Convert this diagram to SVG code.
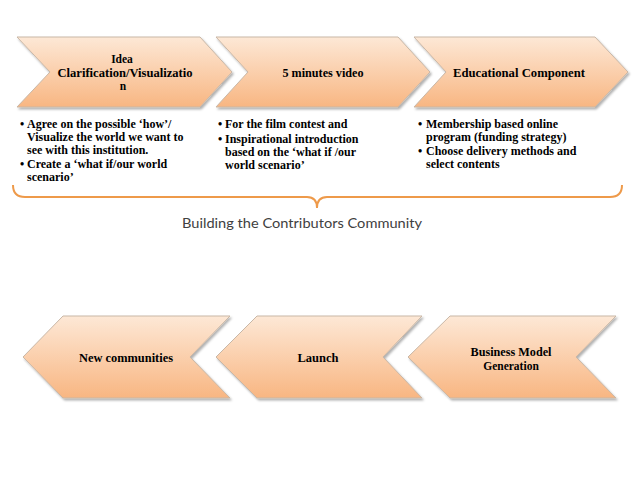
<svg xmlns="http://www.w3.org/2000/svg" width="640" height="480" viewBox="0 0 640 480">
<defs>
<linearGradient id="g" x1="0" y1="0" x2="0" y2="1">
<stop offset="0" stop-color="#fde8d6"/>
<stop offset="1" stop-color="#f8b682"/>
</linearGradient>
<filter id="sh" x="-10%" y="-10%" width="130%" height="130%">
<feDropShadow dx="1.5" dy="2" stdDeviation="1.2" flood-color="#000" flood-opacity="0.3"/>
</filter>
<style>
.chev{fill:url(#g);stroke:#c9b7a6;stroke-width:1;filter:url(#sh)}
.lbl{font-family:"Liberation Serif","Times New Roman",serif;font-weight:bold;font-size:12.5px;fill:#000;text-anchor:middle}
.sm{font-size:11.5px}
.bul{font-family:"Liberation Serif","Times New Roman",serif;font-weight:bold;font-size:12px;fill:#000}
.brace{fill:none;stroke:#ee9a4a;stroke-width:2}
.cap{font-family:Lato,"Open Sans",sans-serif;font-size:14px;fill:#404040;text-anchor:middle}
</style>
</defs>
<rect width="640" height="480" fill="#fff"/>
<g id="node-idea">
<polygon class="chev" points="17,37 200,37 232,72 200,107 17,107 50,72"/>
<text class="lbl sm" x="122" y="63">Idea</text>
<text class="lbl sm" x="125" y="76.5" textLength="135" lengthAdjust="spacingAndGlyphs">Clarification/Visualizatio</text>
<text class="lbl sm" x="123" y="90">n</text>
</g>
<g id="node-video">
<polygon class="chev" points="216,37 398,37 430,72 398,107 216,107 248,72"/>
<text class="lbl" x="323" y="77" textLength="81" lengthAdjust="spacingAndGlyphs">5 minutes video</text>
</g>
<g id="node-edu">
<polygon class="chev" points="414,37 595,37 628,72 595,107 414,107 446,72"/>
<text class="lbl" x="519" y="77" textLength="132" lengthAdjust="spacingAndGlyphs">Educational Component</text>
</g>
<g id="bullets-1">
<text class="bul" x="20" y="128">•</text>
<text class="bul" x="27" y="128">Agree on the possible ‘how’/</text>
<text class="bul" x="27" y="141">Visualize the world we want to</text>
<text class="bul" x="27" y="154">see with this institution.</text>
<text class="bul" x="20" y="168">•</text>
<text class="bul" x="27" y="168">Create a ‘what if/our world</text>
<text class="bul" x="27" y="181">scenario’</text>
</g>
<g id="bullets-2">
<text class="bul" x="218" y="128">•</text>
<text class="bul" x="225" y="128">For the film contest and</text>
<text class="bul" x="218" y="143">•</text>
<text class="bul" x="225" y="143">Inspirational introduction</text>
<text class="bul" x="225" y="156">based on the ‘what if /our</text>
<text class="bul" x="225" y="169">world scenario’</text>
</g>
<g id="bullets-3">
<text class="bul" x="418" y="128">•</text>
<text class="bul" x="426" y="128">Membership based online</text>
<text class="bul" x="426" y="141">program (funding strategy)</text>
<text class="bul" x="418" y="155">•</text>
<text class="bul" x="426" y="155">Choose delivery methods and</text>
<text class="bul" x="426" y="168">select contents</text>
</g>
<g id="connectors">
<path class="brace" d="M13,185 Q13,197 25,197 L307,197 Q317,197 317,208 Q317,197 327,197 L610,197 Q622,197 622,185"/>
</g>
<g id="caption">
<text class="cap" x="302" y="228" textLength="240" lengthAdjust="spacingAndGlyphs">Building the Contributors Community</text>
</g>
<g id="node-newcomm">
<polygon class="chev" points="23,357 63,316 230,316 190,357 230,398 63,398"/>
<text class="lbl" x="126" y="362" textLength="94" lengthAdjust="spacingAndGlyphs">New communities</text>
</g>
<g id="node-launch">
<polygon class="chev" points="216,357 257,316 422,316 383,357 422,398 257,398"/>
<text class="lbl" x="318" y="362">Launch</text>
</g>
<g id="node-bmg">
<polygon class="chev" points="408,357 450,316 616,316 576,357 616,398 450,398"/>
<text class="lbl sm" x="511" y="356" textLength="81" lengthAdjust="spacingAndGlyphs">Business Model</text>
<text class="lbl sm" x="511" y="369.5">Generation</text>
</g>
</svg>
